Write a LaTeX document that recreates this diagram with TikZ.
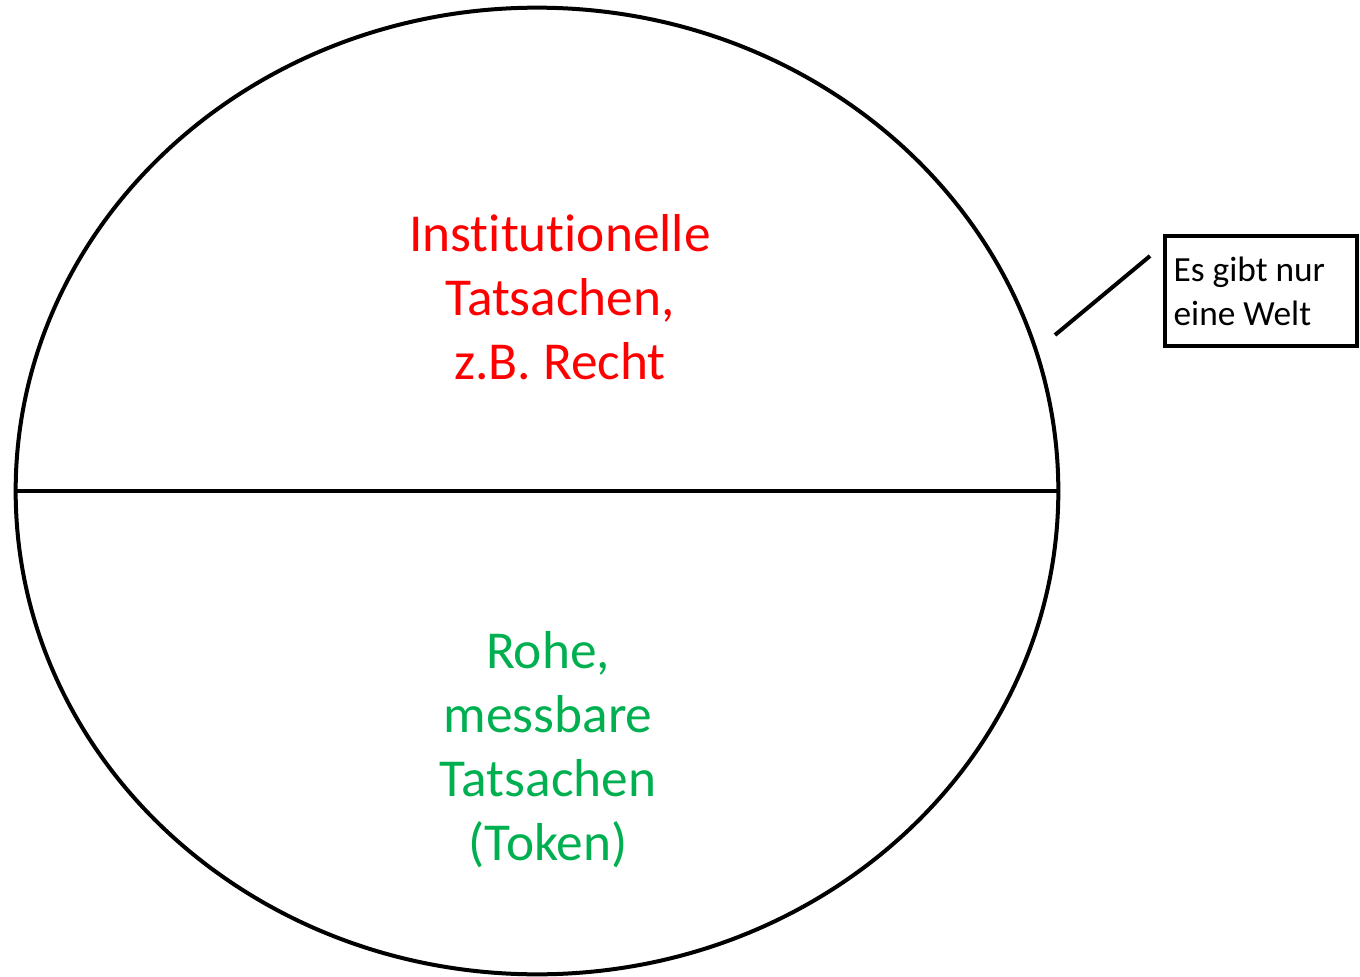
\documentclass[tikz,border=0pt]{standalone}
\usepackage{fontspec}
\setmainfont[Ligatures=NoCommon]{Carlito}
\usetikzlibrary{shapes.geometric}
\definecolor{rechtrot}{HTML}{FF0000}
\definecolor{rohgruen}{HTML}{00B050}
\tikzset{
welt/.style={
	  draw, line width=3pt, ellipse, inner sep=0pt,
	    minimum width=782pt, minimum height=725pt},
tatsache/.style={align=center, font=\fontsize{40}{48}\selectfont},
hinweis/.style={draw, line width=2.8pt, align=left, inner sep=0pt,
    minimum width=144pt, minimum height=82pt,
    font=\fontsize{26.5}{33}\selectfont}
}

\begin{document}
\begin{tikzpicture}[x=0.75pt, y=-0.75pt]
	\useasboundingbox (0,0) rectangle (1360,977);
	\node[welt] (kreis) at (537,491) {};
	\draw[line width=3pt] (kreis.west) -- (kreis.east);
	\node[tatsache, text=rechtrot] (oben) at (560,297) {Institutionelle\\Tatsachen,\\z.B. Recht};
	\node[tatsache, text=rohgruen] (unten) at (548,750) {Rohe,\\messbare\\Tatsachen\\(Token)};
	\node[hinweis] (box) at (1261,291) {\hspace*{-14pt}Es gibt nur\\\hspace*{-14pt}eine Welt\hspace*{14pt}};
	\coordinate (zeigerA) at (1055,335);
	\coordinate (zeigerB) at (1150,256);
	\draw[line width=3pt] (zeigerA) -- (zeigerB);
\end{tikzpicture}
\end{document}
